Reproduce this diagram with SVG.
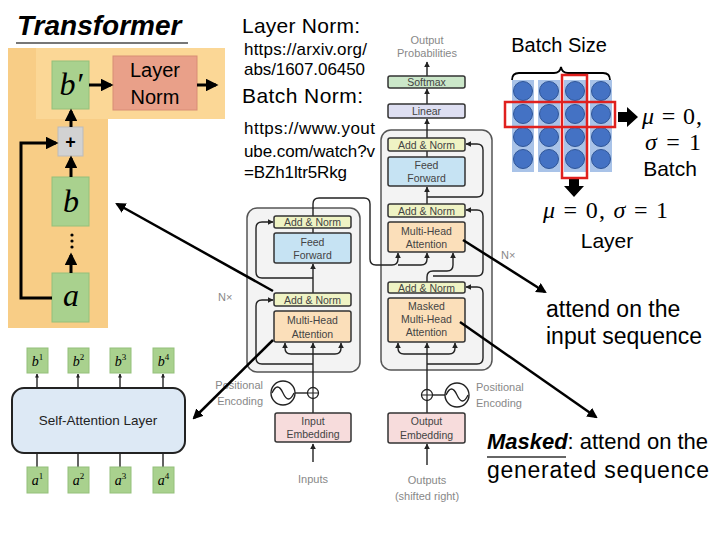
<svg xmlns="http://www.w3.org/2000/svg" width="721" height="540" viewBox="0 0 721 540">
<defs>
<style>
.sans{font-family:"Liberation Sans","DejaVu Sans",sans-serif}
.math{font-family:"Liberation Serif","DejaVu Serif",serif;font-style:italic}
.lbl{font-family:"Liberation Sans","DejaVu Sans",sans-serif;font-size:10.5px;fill:#444;text-anchor:middle}
.gray{font-family:"Liberation Sans","DejaVu Sans",sans-serif;font-size:11px;fill:#888}
.box{stroke:#333;stroke-width:1.5}
.an{fill:#eff3c4}
.ff{fill:#c6e3f3}
.mha{fill:#fbdfba}
.emb{fill:#f7dcdc}
.thin{fill:none;stroke:#222;stroke-width:1.4}
.thick{fill:none;stroke:#000;stroke-width:3}
.long{fill:none;stroke:#000;stroke-width:2.5}
.grn{fill:#a9d18e;stroke:#94c07a;stroke-width:1}
.circ{fill:#4472c4;stroke:#2f5597;stroke-width:1}
.col{fill:#a9c3e8}
.red{fill:none;stroke:#e0201e;stroke-width:2.5}
</style>
<marker id="big" viewBox="0 0 10 10" refX="8" refY="5" markerWidth="4.2" markerHeight="4.2" orient="auto" markerUnits="strokeWidth"><path d="M0,0 L10,5 L0,10 z" fill="#000"/></marker>
<marker id="sm" viewBox="0 0 10 10" refX="9" refY="5" markerWidth="6" markerHeight="6" orient="auto" markerUnits="userSpaceOnUse"><path d="M0,0 L10,5 L0,10 z" fill="#222"/></marker>
<marker id="tiny" viewBox="0 0 10 10" refX="9" refY="5" markerWidth="4" markerHeight="4" orient="auto" markerUnits="userSpaceOnUse"><path d="M0,0 L10,5 L0,10 z" fill="#222"/></marker>
</defs>
<rect width="721" height="540" fill="#fff"/>

<!-- Title -->
<g id="title">
<text x="17" y="35" class="sans" font-size="28" font-weight="bold" font-style="italic" fill="#000">Transformer</text>
<line x1="16" y1="43" x2="188" y2="43" stroke="#777" stroke-width="2"/>
</g>

<!-- residual block illustration -->
<g id="residual-bg">
<polygon points="8,48 225,48 225,119 108,119 108,328 8,328" fill="#f8cd86"/>
<rect x="36" y="48" width="189" height="71" fill="#fbd796"/>
</g>
<g id="node-bprime"><rect x="52" y="61" width="37" height="48" class="grn"/><text x="71" y="95" class="math" font-size="32" text-anchor="middle">b′</text></g>
<g id="node-layernorm"><rect x="113" y="56" width="84" height="54" fill="#e9a089" stroke="#d88d74" stroke-width="1"/><text x="155" y="77" class="sans" font-size="20" text-anchor="middle">Layer</text><text x="155" y="104" class="sans" font-size="20" text-anchor="middle">Norm</text></g>
<g id="node-plus"><rect x="58" y="127" width="25" height="29" fill="#d2d2d2" stroke="#bbb" stroke-width="1"/><text x="70.5" y="148" class="sans" font-size="18" font-weight="bold" text-anchor="middle">+</text></g>
<g id="node-b"><rect x="52" y="177" width="37" height="49" class="grn"/><text x="71" y="212" class="math" font-size="32" text-anchor="middle">b</text></g>
<g id="node-dots"><circle cx="72" cy="235" r="1.6"/><circle cx="72" cy="241" r="1.6"/><circle cx="72" cy="247" r="1.6"/></g>
<g id="node-a"><rect x="52" y="273" width="37" height="49" class="grn"/><text x="71" y="306" class="math" font-size="32" text-anchor="middle">a</text></g>

<!-- Top-middle references -->
<g id="refs" class="sans" fill="#000">
<text x="242" y="33" font-size="21" textLength="118">Layer Norm:</text>
<text x="244" y="55" font-size="17" textLength="123">https://arxiv.org/</text>
<text x="244" y="75" font-size="17" textLength="121">abs/1607.06450</text>
<text x="242" y="103" font-size="21" textLength="121">Batch Norm:</text>
<text x="244" y="134" font-size="17" textLength="131">https://www.yout</text>
<text x="244" y="157" font-size="17" textLength="131">ube.com/watch?v</text>
<text x="244" y="178" font-size="17" textLength="103">=BZh1ltr5Rkg</text>
</g>

<!-- Transformer figure -->
<g id="encoder-frame"><rect x="247" y="208" width="113" height="164" rx="10" fill="#f3f3f3" stroke="#555" stroke-width="1.5"/></g>
<g id="decoder-frame"><rect x="381" y="130" width="111" height="240" rx="10" fill="#f3f3f3" stroke="#555" stroke-width="1.5"/></g>

<g id="connectors">
<!-- left residual -->
<path d="M89,85 H111" class="thick" marker-end="url(#big)"/>
<path d="M197,85 H216" class="thick" marker-end="url(#big)"/>
<path d="M71,127 V111" class="thick" marker-end="url(#big)"/>
<path d="M71,177 V158" class="thick" marker-end="url(#big)"/>
<path d="M71,273 V255" class="thick" marker-end="url(#big)"/>
<path d="M52,298 H21 V143 H56" class="thick" marker-end="url(#big)"/>

<!-- encoder -->
<path d="M313,462 V444" class="thin" marker-end="url(#sm)"/>
<path d="M313,413 V343" class="thin" marker-end="url(#sm)"/>
<path d="M313,354 H291 Q285,354 285,348 V343" class="thin" marker-end="url(#sm)"/>
<path d="M313,354 H335 Q341,354 341,348 V343" class="thin" marker-end="url(#sm)"/>
<path d="M313,364 H262 Q256,364 256,358 V306 Q256,300 262,300 H273" class="thin" marker-end="url(#sm)"/>
<path d="M313,293 V264" class="thin" marker-end="url(#sm)"/>
<path d="M313,278 H262 Q256,278 256,272 V228 Q256,222 262,222 H273" class="thin" marker-end="url(#sm)"/>
<path d="M313,233 V228" class="thin"/>
<path d="M313,216 V204 Q313,198 319,198 H364 Q370,198 370,204 V259 Q370,265 376,265 H392 Q398,265 398,259 V253" class="thin" marker-end="url(#sm)"/>
<path d="M398,265 H421 Q427,265 427,259 V253" class="thin" marker-end="url(#sm)"/>
<path d="M295,393 H307.5" class="thin"/>

<!-- decoder -->
<path d="M427,465 V444" class="thin" marker-end="url(#sm)"/>
<path d="M427,413 V343" class="thin" marker-end="url(#sm)"/>
<path d="M427,354 H404 Q398,354 398,348 V343" class="thin" marker-end="url(#sm)"/>
<path d="M427,354 H449 Q455,354 455,348 V343" class="thin" marker-end="url(#sm)"/>
<path d="M427,364 H477 Q483,364 483,358 V293 Q483,287 477,287 H466" class="thin" marker-end="url(#sm)"/>
<path d="M427,282 V277 Q427,271 433,271 H447 Q453,271 453,265 V253" class="thin" marker-end="url(#sm)"/>
<path d="M433,276 H477 Q483,276 483,270 V216 Q483,210 477,210 H466" class="thin" marker-end="url(#sm)"/>
<path d="M427,204 V187" class="thin" marker-end="url(#sm)"/>
<path d="M427,197 H477 Q483,197 483,191 V150 Q483,144 477,144 H466" class="thin" marker-end="url(#sm)"/>
<path d="M427,157 V151" class="thin"/>
<path d="M427,138 V119" class="thin" marker-end="url(#sm)"/>
<path d="M427,104 V89" class="thin" marker-end="url(#sm)"/>
<path d="M427,76 V62" class="thin" marker-end="url(#sm)"/>
<path d="M432.5,395 H445" class="thin"/>

<!-- self-attention layer -->
<path d="M37,388 V374" class="thin" marker-end="url(#tiny)"/>
<path d="M78,388 V374" class="thin" marker-end="url(#tiny)"/>
<path d="M120,388 V374" class="thin" marker-end="url(#tiny)"/>
<path d="M163,388 V374" class="thin" marker-end="url(#tiny)"/>
<path d="M37,467 V453 M78,467 V453 M120,467 V453 M163,467 V453" class="thin"/>

<!-- batch/layer arrows -->
<path d="M618,112 H627 V107 L638,117 L627,127 V122 H618 Z" fill="#000"/>
<path d="M569,178 V186 H564 L574,197 L584,186 H579 V178 Z" fill="#000"/>
</g>

<g id="enc-addnorm2"><rect x="274" y="216" width="77" height="12" rx="2" class="box an"/><text x="312.5" y="226" class="lbl">Add &amp; Norm</text></g>
<g id="enc-ff"><rect x="274" y="233" width="77" height="30" rx="2" class="box ff"/><text x="312.5" y="246" class="lbl">Feed</text><text x="312.5" y="259" class="lbl">Forward</text></g>
<g id="enc-addnorm1"><rect x="274" y="293" width="77" height="13" rx="2" class="box an"/><text x="312.5" y="303.5" class="lbl">Add &amp; Norm</text></g>
<g id="enc-mha"><rect x="274" y="311" width="77" height="31" rx="2" class="box mha"/><text x="312.5" y="324" class="lbl">Multi-Head</text><text x="312.5" y="338" class="lbl">Attention</text></g>
<g id="enc-emb"><rect x="275" y="413" width="76" height="29" rx="2" class="box emb"/><text x="313" y="425" class="lbl">Input</text><text x="313" y="438" class="lbl">Embedding</text></g>
<g id="enc-pe"><circle cx="313" cy="393" r="5.5" fill="#fff" stroke="#222" stroke-width="1.3"/><path d="M307.5,393 H318.5 M313,387.5 V398.5" stroke="#222" stroke-width="1.2"/>
<circle cx="283" cy="393" r="12" fill="#fff" stroke="#222" stroke-width="1.4"/><path d="M272,393 Q277.5,381 283,393 T294,393" fill="none" stroke="#222" stroke-width="1.3"/>
<text x="263" y="389" class="gray" text-anchor="end">Positional</text><text x="263" y="405" class="gray" text-anchor="end">Encoding</text></g>
<g id="enc-label"><text x="313" y="483" class="gray" text-anchor="middle">Inputs</text><text x="218" y="301" class="gray">N×</text></g>

<g id="dec-out"><text x="427" y="44" class="gray" text-anchor="middle">Output</text><text x="427" y="57" class="gray" text-anchor="middle">Probabilities</text></g>
<g id="dec-softmax"><rect x="388" y="76" width="77" height="12" rx="2" class="box" fill="#cbe7c9"/><text x="426.5" y="86" class="lbl">Softmax</text></g>
<g id="dec-linear"><rect x="388" y="104" width="77" height="14" rx="2" class="box" fill="#dedff2"/><text x="426.5" y="115" class="lbl">Linear</text></g>
<g id="dec-addnorm3"><rect x="388" y="138" width="77" height="13" rx="2" class="box an"/><text x="426.5" y="148.5" class="lbl">Add &amp; Norm</text></g>
<g id="dec-ff"><rect x="388" y="157" width="77" height="29" rx="2" class="box ff"/><text x="426.5" y="169" class="lbl">Feed</text><text x="426.5" y="182" class="lbl">Forward</text></g>
<g id="dec-addnorm2"><rect x="388" y="204" width="77" height="13" rx="2" class="box an"/><text x="426.5" y="214.5" class="lbl">Add &amp; Norm</text></g>
<g id="dec-mha"><rect x="388" y="222" width="77" height="30" rx="2" class="box mha"/><text x="426.5" y="235" class="lbl">Multi-Head</text><text x="426.5" y="248" class="lbl">Attention</text></g>
<g id="dec-addnorm1"><rect x="388" y="282" width="77" height="11" rx="2" class="box an"/><text x="426.5" y="291.5" class="lbl">Add &amp; Norm</text></g>
<g id="dec-mmha"><rect x="388" y="298" width="77" height="44" rx="2" class="box mha"/><text x="426.5" y="310" class="lbl">Masked</text><text x="426.5" y="323" class="lbl">Multi-Head</text><text x="426.5" y="336" class="lbl">Attention</text></g>
<g id="dec-emb"><rect x="388" y="413" width="77" height="30" rx="2" class="box emb"/><text x="426.5" y="425" class="lbl">Output</text><text x="426.5" y="439" class="lbl">Embedding</text></g>
<g id="dec-pe"><circle cx="427" cy="395" r="5.5" fill="#fff" stroke="#222" stroke-width="1.3"/><path d="M421.5,395 H432.5 M427,389.5 V400.5" stroke="#222" stroke-width="1.2"/>
<circle cx="457" cy="395" r="12" fill="#fff" stroke="#222" stroke-width="1.4"/><path d="M446,395 Q451.5,383 457,395 T468,395" fill="none" stroke="#222" stroke-width="1.3"/>
<text x="476" y="391" class="gray">Positional</text><text x="476" y="407" class="gray">Encoding</text></g>
<g id="dec-label"><text x="427" y="484" class="gray" text-anchor="middle">Outputs</text><text x="427" y="500" class="gray" text-anchor="middle">(shifted right)</text><text x="501" y="259" class="gray">N×</text></g>

<!-- Self-attention layer -->
<g id="node-sal"><rect x="12" y="388" width="173" height="65" rx="12" fill="#dde9f5" stroke="#222" stroke-width="2"/><text x="98" y="425" class="sans" font-size="13.5" text-anchor="middle" fill="#222">Self-Attention Layer</text></g>
<g id="node-b1"><rect x="27" y="348" width="21" height="25" class="grn"/><text x="37.5" y="366" class="math" font-size="14" text-anchor="middle">b<tspan dy="-6" font-size="9" font-style="normal">1</tspan></text></g>
<g id="node-b2"><rect x="68" y="348" width="21" height="25" class="grn"/><text x="78.5" y="366" class="math" font-size="14" text-anchor="middle">b<tspan dy="-6" font-size="9" font-style="normal">2</tspan></text></g>
<g id="node-b3"><rect x="110" y="348" width="21" height="25" class="grn"/><text x="120.5" y="366" class="math" font-size="14" text-anchor="middle">b<tspan dy="-6" font-size="9" font-style="normal">3</tspan></text></g>
<g id="node-b4"><rect x="153" y="348" width="21" height="25" class="grn"/><text x="163.5" y="366" class="math" font-size="14" text-anchor="middle">b<tspan dy="-6" font-size="9" font-style="normal">4</tspan></text></g>
<g id="node-a1"><rect x="27" y="467" width="21" height="26" class="grn"/><text x="37.5" y="485" class="math" font-size="14" text-anchor="middle">a<tspan dy="-6" font-size="9" font-style="normal">1</tspan></text></g>
<g id="node-a2"><rect x="68" y="467" width="21" height="26" class="grn"/><text x="78.5" y="485" class="math" font-size="14" text-anchor="middle">a<tspan dy="-6" font-size="9" font-style="normal">2</tspan></text></g>
<g id="node-a3"><rect x="110" y="467" width="21" height="26" class="grn"/><text x="120.5" y="485" class="math" font-size="14" text-anchor="middle">a<tspan dy="-6" font-size="9" font-style="normal">3</tspan></text></g>
<g id="node-a4"><rect x="153" y="467" width="21" height="26" class="grn"/><text x="163.5" y="485" class="math" font-size="14" text-anchor="middle">a<tspan dy="-6" font-size="9" font-style="normal">4</tspan></text></g>

<!-- Batch / Layer norm grid -->
<g id="grid">
<text x="559" y="52" class="sans" font-size="20" text-anchor="middle">Batch Size</text>
<path d="M512,80 Q512,73 519,73 H554 Q560,73 561,67 Q562,73 568,73 H603 Q610,73 610,80" fill="none" stroke="#000" stroke-width="1.8"/>
<rect x="512" y="80" width="22" height="92" class="col"/>
<rect x="538" y="80" width="22" height="92" class="col"/>
<rect x="564" y="80" width="22" height="92" class="col"/>
<rect x="590" y="80" width="22" height="92" class="col"/>
<g>
<circle cx="523" cy="91" r="9.5" class="circ"/><circle cx="549" cy="91" r="9.5" class="circ"/><circle cx="575" cy="91" r="9.5" class="circ"/><circle cx="601" cy="91" r="9.5" class="circ"/>
<circle cx="523" cy="114" r="9.5" class="circ"/><circle cx="549" cy="114" r="9.5" class="circ"/><circle cx="575" cy="114" r="9.5" class="circ"/><circle cx="601" cy="114" r="9.5" class="circ"/>
<circle cx="523" cy="137" r="9.5" class="circ"/><circle cx="549" cy="137" r="9.5" class="circ"/><circle cx="575" cy="137" r="9.5" class="circ"/><circle cx="601" cy="137" r="9.5" class="circ"/>
<circle cx="523" cy="159" r="9.5" class="circ"/><circle cx="549" cy="159" r="9.5" class="circ"/><circle cx="575" cy="159" r="9.5" class="circ"/><circle cx="601" cy="159" r="9.5" class="circ"/>
</g>
<rect x="505" y="102" width="110" height="25" class="red"/>
<rect x="562" y="75" width="25" height="103" class="red"/>
<text x="642" y="124" font-family="Liberation Serif,serif" font-size="24" textLength="60"><tspan font-style="italic">μ</tspan> = 0,</text>
<text x="645" y="150" font-family="Liberation Serif,serif" font-size="24" textLength="56"><tspan font-style="italic">σ</tspan> = 1</text>
<text x="670" y="176" class="sans" font-size="21" text-anchor="middle">Batch</text>
<text x="543" y="218" font-family="Liberation Serif,serif" font-size="24" textLength="125"><tspan font-style="italic">μ</tspan> = 0, <tspan font-style="italic">σ</tspan> = 1</text>
<text x="607" y="248" class="sans" font-size="21" text-anchor="middle">Layer</text>
</g>

<!-- Annotations -->
<g id="notes" class="sans" fill="#000">
<text x="546" y="317" font-size="23">attend on the</text>
<text x="546" y="344" font-size="23">input sequence</text>
<text x="487" y="449" font-size="22" textLength="221"><tspan font-weight="bold" font-style="italic">Masked</tspan>: attend on the</text>
<line x1="487" y1="457" x2="566" y2="457" stroke="#666" stroke-width="2"/>
<text x="487" y="478" font-size="23" textLength="222">generated sequence</text>
</g>

<g id="long-arrows">
<path d="M273,291 L117,204" class="long" marker-end="url(#big)"/>
<path d="M273,340 L194,418" class="long" marker-end="url(#big)"/>
<path d="M463,240 L545,292" class="long" marker-end="url(#big)"/>
<path d="M460,322 L596,417" class="long" marker-end="url(#big)"/>
</g>
</svg>
